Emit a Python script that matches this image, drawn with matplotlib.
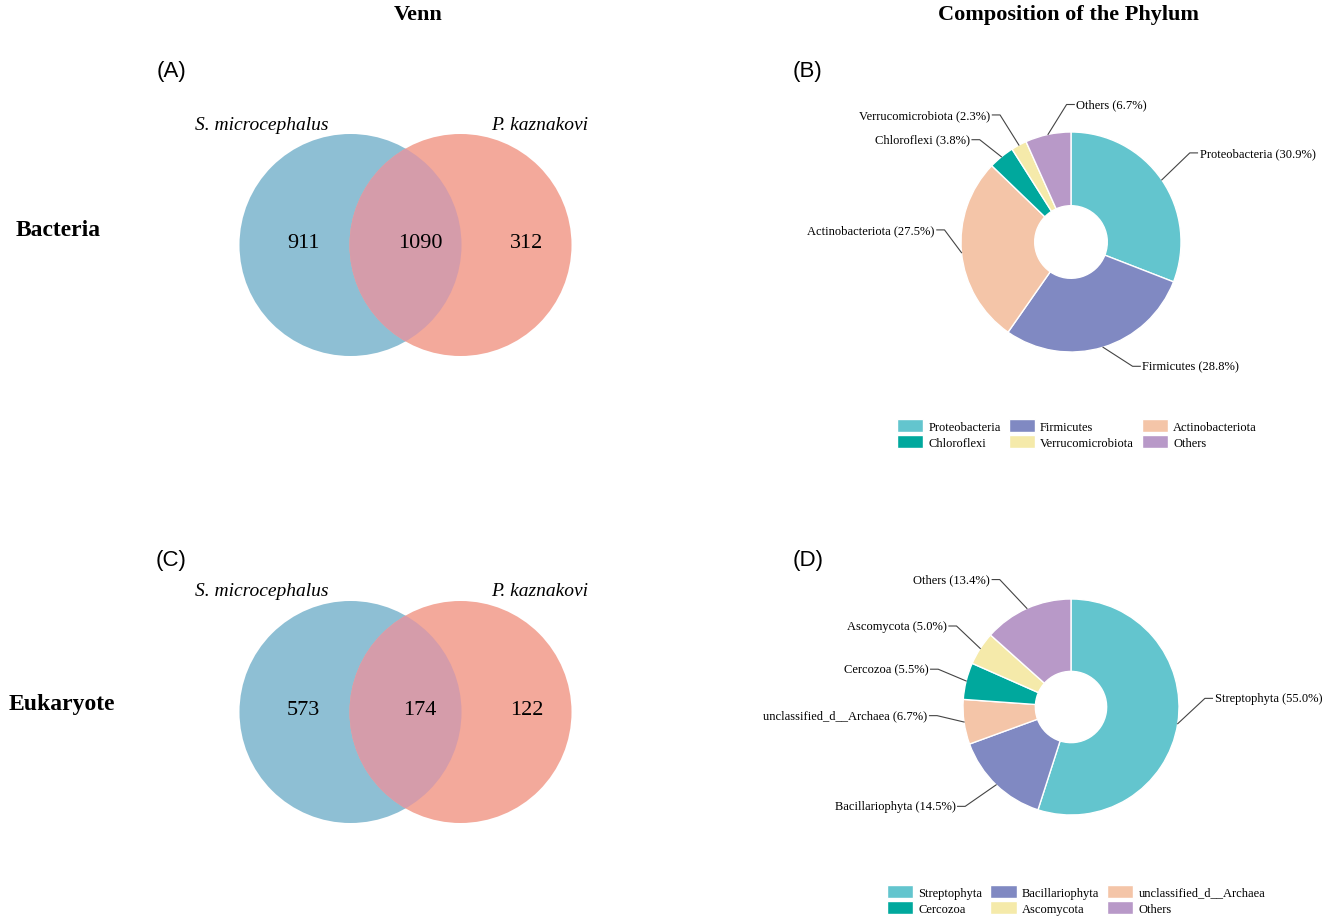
import matplotlib
matplotlib.use("Agg")
import matplotlib.pyplot as plt
from matplotlib.patches import Circle
import numpy as np

# ---- data ----
venn_groups = ["S. microcephalus", "P. kaznakovi"]
bact_venn = [911, 1090, 312]   # left only, shared, right only
euk_venn = [573, 174, 122]

bact_phyla = ["Proteobacteria", "Firmicutes", "Actinobacteriota",
              "Chloroflexi", "Verrucomicrobiota", "Others"]
bact_pct = [30.9, 28.8, 27.5, 3.8, 2.3, 6.7]

euk_phyla = ["Streptophyta", "Bacillariophyta", "unclassified_d__Archaea",
             "Cercozoa", "Ascomycota", "Others"]
euk_pct = [55.0, 14.5, 6.7, 5.5, 5.0, 13.4]

# ---- style ----
BLUE, SALMON, OVERLAP = "#8ebfd4", "#f3a99b", "#d59caa"
pie_colors = ["#63c5ce", "#8089c2", "#f4c5a8", "#00a89d", "#f5eaaa", "#b899c8"]
LINE = "#444444"

plt.rcParams["font.family"] = "Liberation Serif"

W, H = 1325, 920
fig = plt.figure(figsize=(W / 100, H / 100), dpi=100)
bg = fig.add_axes([0, 0, 1, 1])
bg.set_xlim(0, W)
bg.set_ylim(H, 0)
bg.axis("off")


def draw_venn(cy, counts):
    lc, rc, r = 350.5, 460.5, 111
    left = Circle((lc, cy), r, fc=BLUE, ec="none")
    right = Circle((rc, cy), r, fc=SALMON, ec="none")
    bg.add_patch(left)
    bg.add_patch(right)
    lens = Circle((rc, cy), r, fc=OVERLAP, ec="none")
    bg.add_patch(lens)
    lens.set_clip_path(left)
    for x, n in zip([303, 420, 527], counts):
        bg.text(x, cy - 2, str(n), fontsize=16, ha="center", va="center")
    bg.text(262, cy - 121, venn_groups[0], fontsize=14, style="italic",
            ha="center", va="center")
    bg.text(540, cy - 121, venn_groups[1], fontsize=14, style="italic",
            ha="center", va="center")


def draw_pie(cx, cy, r, names, pct, label_xy, sides, legend_xy):
    h = 1.6 * r
    ax = fig.add_axes([(cx - h) / W, 1 - (cy + h) / H, 2 * h / W, 2 * h / H])
    wedges, _ = ax.pie(pct, colors=pie_colors, startangle=90, counterclock=False,
                       radius=1,
                       wedgeprops=dict(width=0.67, edgecolor="white", linewidth=1))
    ax.set_xlim(-1.6, 1.6)
    ax.set_ylim(-1.6, 1.6)
    ax.set_aspect("equal")
    ax.axis("off")
    for w, name, p, (ex, ey), s in zip(wedges, names, pct, label_xy, sides):
        ang = np.deg2rad((w.theta1 + w.theta2) / 2)
        x0, y0 = np.cos(ang), np.sin(ang)
        ax.plot([x0, ex, ex + s * 0.07], [y0, ey, ey], color=LINE, lw=0.8,
                clip_on=False)
        ax.text(ex + s * 0.09, ey, f"{name} ({p:.1f}%)", fontsize=9,
                ha="left" if s > 0 else "right", va="center")
    order = [0, 3, 1, 4, 2, 5]
    fig.legend([wedges[i] for i in order], [names[i] for i in order], ncol=3,
               loc="upper left", bbox_to_anchor=(legend_xy[0] / W, 1 - legend_xy[1] / H),
               frameon=False, fontsize=9, handlelength=2.1, handleheight=1.2,
               handletextpad=0.4, columnspacing=0.65, labelspacing=0.2,
               borderpad=0, borderaxespad=0)


# titles and row labels
bg.text(418, 15, "Venn", fontsize=16, fontweight="bold", ha="center", va="center")
bg.text(1069, 15, "Composition of the Phylum", fontsize=16, fontweight="bold",
        ha="center", va="center")
bg.text(58, 230, "Bacteria", fontsize=17, fontweight="bold", ha="center", va="center")
bg.text(62, 705, "Eukaryote", fontsize=17, fontweight="bold", ha="center", va="center")
for x, y, s in [(171, 72, "(A)"), (808, 72, "(B)"), (171, 561, "(C)"), (808, 561, "(D)")]:
    bg.text(x, y, s, fontsize=16, family="Liberation Sans", ha="center", va="center")

draw_venn(246, bact_venn)
draw_venn(713, euk_venn)

draw_pie(1071, 243, 110, bact_phyla, bact_pct,
         [(1.08, 0.81), (0.56, -1.13), (-1.15, 0.11), (-0.83, 0.93),
          (-0.645, 1.155), (-0.04, 1.25)],
         [1, 1, -1, -1, -1, 1], (897, 420))
draw_pie(1071, 708, 108, euk_phyla, euk_pct,
         [(1.24, 0.08), (-0.98, -0.92), (-1.24, -0.08), (-1.23, 0.35),
          (-1.06, 0.75), (-0.66, 1.18)],
         [1, -1, -1, -1, -1, -1], (887, 886))

fig.savefig("out.png", dpi=100, facecolor="white")
